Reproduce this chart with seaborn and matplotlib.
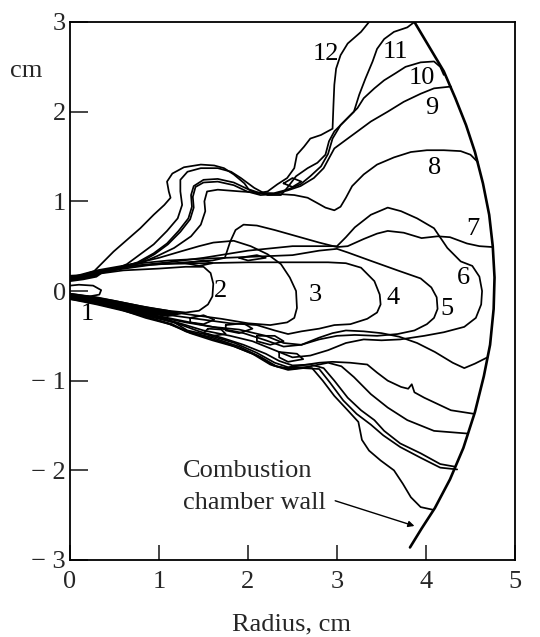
import numpy as np
import pandas as pd
import matplotlib
matplotlib.use("Agg")
import matplotlib.pyplot as plt
import seaborn as sns

# ---------------- data (cm) ----------------
contour_1 = [(0.0, 0.06), (0.1, 0.07), (0.26, 0.06), (0.35, 0.01), (0.33, -0.04), (0.22, -0.06), (0.05, -0.05)]
contour_2 = [(0, 0.12), (0.3, 0.19), (0.6, 0.23), (1.0, 0.25), (1.3, 0.27), (1.5, 0.27), (1.58, 0.2), (1.61, 0.08),
             (1.6, -0.06), (1.55, -0.15), (1.45, -0.22), (1.3, -0.24), (1.1, -0.22), (0.8, -0.17), (0.5, -0.11),
             (0.2, -0.06), (0, -0.03)]
contour_3 = [(0, 0.13), (0.3, 0.2), (0.7, 0.3), (1.0, 0.37), (1.24, 0.44), (1.45, 0.5), (1.61, 0.54), (1.84, 0.56),
             (2.03, 0.50), (2.22, 0.41), (2.37, 0.30), (2.47, 0.15), (2.54, 0.0), (2.55, -0.19), (2.52, -0.30),
             (2.44, -0.35), (2.25, -0.38), (2.0, -0.36), (1.7, -0.31), (1.4, -0.27), (1.1, -0.23), (0.8, -0.18),
             (0.4, -0.11), (0, -0.05)]
contour_4 = [(0, 0.14), (0.3, 0.22), (0.6, 0.27), (1.0, 0.3), (1.5, 0.31), (2.0, 0.32), (2.5, 0.32), (2.9, 0.32),
             (3.1, 0.31), (3.27, 0.26), (3.42, 0.11), (3.48, -0.04), (3.49, -0.15), (3.45, -0.24), (3.34, -0.31),
             (3.15, -0.37), (2.97, -0.38), (2.8, -0.42), (2.6, -0.45), (2.45, -0.48), (2.3, -0.44), (2.1, -0.38),
             (1.8, -0.36), (1.5, -0.32), (1.2, -0.28), (0.9, -0.24), (0.6, -0.17), (0.3, -0.11), (0, -0.06)]
contour_5 = [(0, 0.15), (0.3, 0.23), (0.7, 0.3), (1.1, 0.34), (1.5, 0.36), (2.0, 0.38), (2.5, 0.4), (2.8, 0.45),
             (3.0, 0.47), (3.12, 0.43), (3.37, 0.34), (3.68, 0.23), (3.94, 0.14), (4.06, 0.04),
             (4.12, -0.07), (4.13, -0.2), (4.09, -0.3), (4.01, -0.37), (3.87, -0.44), (3.68, -0.48), (3.45, -0.5),
             (3.2, -0.49), (3.0, -0.5), (2.8, -0.54), (2.6, -0.6), (2.4, -0.58), (2.2, -0.5), (1.9, -0.43),
             (1.6, -0.4), (1.3, -0.35), (1.0, -0.29), (0.7, -0.21), (0.35, -0.13), (0, -0.07)]
contour_6 = [(0, 0.15), (0.3, 0.21), (0.7, 0.28), (1.1, 0.32), (1.5, 0.37), (2.0, 0.45), (2.5, 0.5), (2.85, 0.5),
             (3.0, 0.5), (3.1, 0.6), (3.2, 0.71), (3.38, 0.85), (3.57, 0.93), (3.72, 0.89),
             (3.90, 0.81), (4.09, 0.70), (4.24, 0.48), (4.39, 0.33), (4.52, 0.28), (4.6, 0.16), (4.63, 0.0),
             (4.62, -0.15), (4.56, -0.3), (4.43, -0.4), (4.20, -0.46), (3.98, -0.5), (3.71, -0.54), (3.5, -0.55),
             (3.3, -0.54), (3.1, -0.58), (2.9, -0.66), (2.7, -0.72), (2.5, -0.74), (2.3, -0.66), (2.05, -0.56),
             (1.8, -0.5), (1.5, -0.44), (1.2, -0.35), (0.9, -0.27), (0.5, -0.17), (0, -0.08)]
contour_7_upper = [(0, 0.15), (0.4, 0.22), (0.9, 0.29), (1.3, 0.32), (1.6, 0.34), (1.74, 0.37), (1.8, 0.55),
                   (1.86, 0.68), (1.95, 0.74), (2.1, 0.73), (2.3, 0.68), (2.55, 0.61), (2.8, 0.54), (3.0, 0.49),
                   (3.12, 0.5), (3.3, 0.58), (3.45, 0.64), (3.57, 0.67), (3.75, 0.65), (3.95, 0.59), (4.13, 0.61),
                   (4.27, 0.6), (4.46, 0.53), (4.6, 0.5), (4.75, 0.49)]
contour_7_lower = [(4.69, -0.74), (4.55, -0.81), (4.43, -0.86), (4.3, -0.8), (4.1, -0.68), (3.9, -0.58),
                   (3.7, -0.51), (3.5, -0.47), (3.3, -0.45), (3.1, -0.44), (2.95, -0.47), (2.8, -0.52), (2.6, -0.6),
                   (2.4, -0.62), (2.2, -0.55), (1.95, -0.47), (1.7, -0.42), (1.4, -0.36), (1.1, -0.3), (0.8, -0.24),
                   (0.4, -0.15), (0, -0.08)]
contour_8_upper = [(0, 0.15), (0.27, 0.19), (0.53, 0.24), (0.79, 0.31), (0.98, 0.39), (1.17, 0.48), (1.36, 0.61),
                   (1.47, 0.74), (1.52, 0.89), (1.51, 1.0), (1.54, 1.11), (1.66, 1.13), (1.92, 1.11), (2.22, 1.09),
                   (2.52, 1.07), (2.67, 1.04), (2.78, 0.98), (2.87, 0.93), (2.97, 0.90), (3.04, 0.94), (3.10, 1.04),
                   (3.17, 1.17), (3.30, 1.30), (3.45, 1.41), (3.64, 1.49), (3.83, 1.55), (4.01, 1.57), (4.20, 1.57),
                   (4.39, 1.56), (4.50, 1.52), (4.58, 1.44)]
contour_8_lower = [(4.54, -1.37), (4.28, -1.33), (4.13, -1.26), (3.98, -1.19), (3.87, -1.13), (3.84, -1.04),
                   (3.8, -1.09), (3.72, -1.07), (3.57, -1.0), (3.45, -0.91), (3.34, -0.82), (3.15, -0.8),
                   (2.95, -0.79), (2.8, -0.8), (2.6, -0.83), (2.45, -0.85), (2.3, -0.8), (2.1, -0.69), (1.85, -0.58),
                   (1.55, -0.49), (1.32, -0.44), (1.17, -0.35), (0.87, -0.28), (0.6, -0.2), (0.3, -0.14), (0, -0.08)]
contour_9_upper = [(0, 0.15), (0.27, 0.19), (0.53, 0.24), (0.77, 0.31), (0.95, 0.41), (1.1, 0.52), (1.24, 0.66),
                   (1.35, 0.8), (1.39, 0.93), (1.38, 1.05), (1.41, 1.16), (1.5, 1.21), (1.66, 1.22), (1.84, 1.18),
                   (1.99, 1.11), (2.14, 1.07), (2.29, 1.08), (2.44, 1.12), (2.59, 1.17), (2.74, 1.26), (2.85, 1.37),
                   (2.91, 1.48), (2.97, 1.59), (3.12, 1.70), (3.23, 1.78), (3.38, 1.89), (3.57, 2.0), (3.75, 2.11),
                   (3.94, 2.2), (4.09, 2.26), (4.28, 2.28)]
contour_9_lower = [(4.47, -1.59), (4.09, -1.56), (3.79, -1.44), (3.57, -1.3), (3.38, -1.15), (3.19, -0.96),
                   (3.05, -0.84), (2.9, -0.8), (2.7, -0.84), (2.5, -0.87), (2.32, -0.84), (2.15, -0.74), (1.9, -0.62),
                   (1.6, -0.52), (1.35, -0.46), (1.15, -0.38), (0.9, -0.3), (0.6, -0.21), (0.3, -0.14), (0, -0.08)]
contour_10_upper = [(0, 0.15), (0.27, 0.19), (0.53, 0.25), (0.76, 0.32), (0.94, 0.42), (1.09, 0.53), (1.22, 0.67),
                    (1.33, 0.81), (1.37, 0.94), (1.36, 1.07), (1.39, 1.17), (1.5, 1.24), (1.66, 1.25), (1.84, 1.21),
                    (1.99, 1.14), (2.14, 1.09), (2.29, 1.09), (2.44, 1.13), (2.59, 1.19), (2.70, 1.28), (2.82, 1.39),
                    (2.90, 1.53), (2.95, 1.70), (3.04, 1.85), (3.15, 1.96), (3.23, 2.04), (3.30, 2.15), (3.42, 2.26),
                    (3.53, 2.35), (3.66, 2.43), (3.77, 2.50), (3.94, 2.55), (4.09, 2.56), (4.16, 2.5), (4.2, 2.41)]
contour_10_lower = [(4.33, -1.96), (4.16, -1.93), (3.94, -1.81), (3.71, -1.70), (3.53, -1.56), (3.42, -1.44),
                    (3.27, -1.33), (3.12, -1.19), (2.97, -1.0), (2.85, -0.86), (2.7, -0.82), (2.5, -0.83),
                    (2.35, -0.78), (2.2, -0.7), (1.95, -0.6), (1.7, -0.52), (1.45, -0.45), (1.2, -0.36),
                    (0.95, -0.29), (0.6, -0.19), (0.3, -0.12), (0, -0.07)]
contour_11_upper = [(0, 0.15), (0.27, 0.19), (0.46, 0.22), (0.64, 0.30), (0.79, 0.41), (0.94, 0.52), (1.09, 0.67),
                    (1.21, 0.81), (1.26, 0.96), (1.24, 1.11), (1.24, 1.24), (1.32, 1.33), (1.47, 1.37), (1.66, 1.37),
                    (1.81, 1.33), (1.92, 1.26), (2.07, 1.15), (2.22, 1.07), (2.37, 1.07), (2.44, 1.15), (2.54, 1.28),
                    (2.67, 1.37), (2.78, 1.43), (2.87, 1.52), (2.91, 1.67), (2.97, 1.78), (3.08, 1.89), (3.19, 2.0),
                    (3.25, 2.19), (3.32, 2.37), (3.40, 2.56), (3.45, 2.70), (3.53, 2.81), (3.64, 2.89), (3.79, 2.94),
                    (3.87, 3.0)]
contour_11_lower = [(4.35, -1.99), (4.16, -1.97), (3.94, -1.86), (3.71, -1.74), (3.52, -1.61), (3.38, -1.49),
                    (3.22, -1.37), (3.07, -1.22), (2.92, -1.02), (2.8, -0.87), (2.62, -0.86), (2.45, -0.88),
                    (2.28, -0.83), (2.1, -0.72), (1.85, -0.62), (1.6, -0.55), (1.35, -0.47), (1.12, -0.37),
                    (0.85, -0.3), (0.55, -0.2), (0.25, -0.13), (0, -0.08)]
contour_12_upper = [(0, 0.15), (0.12, 0.17), (0.27, 0.22), (0.38, 0.33), (0.49, 0.44), (0.64, 0.57), (0.79, 0.70),
                    (0.94, 0.85), (1.06, 0.96), (1.13, 1.04), (1.11, 1.11), (1.09, 1.22), (1.15, 1.31), (1.28, 1.38),
                    (1.47, 1.41), (1.62, 1.40), (1.73, 1.37), (1.84, 1.30), (1.96, 1.20), (2.01, 1.13), (2.10, 1.09),
                    (2.22, 1.11), (2.33, 1.19), (2.44, 1.26), (2.52, 1.37), (2.55, 1.52), (2.63, 1.61), (2.70, 1.70),
                    (2.82, 1.74), (2.95, 1.81), (2.96, 2.07), (2.97, 2.30), (2.99, 2.48), (3.04, 2.63), (3.12, 2.76),
                    (3.27, 2.89), (3.36, 3.0)]
contour_12_lower = [(4.08, -2.44), (3.94, -2.41), (3.83, -2.3), (3.74, -2.15), (3.64, -2.0), (3.49, -1.89),
                    (3.36, -1.78), (3.28, -1.66), (3.24, -1.46), (3.12, -1.33), (2.97, -1.17), (2.84, -1.0),
                    (2.72, -0.86), (2.55, -0.85), (2.4, -0.86), (2.25, -0.82), (2.05, -0.7), (1.8, -0.6),
                    (1.55, -0.52), (1.3, -0.45), (1.15, -0.37), (0.9, -0.3), (0.6, -0.22), (0.3, -0.15), (0, -0.09)]

# small cells of the spray envelope (crossing outlines)
cell_1 = [(1.35, -0.3), (1.5, -0.27), (1.62, -0.32), (1.5, -0.37), (1.35, -0.35), (1.35, -0.3)]
cell_2 = [(1.75, -0.38), (1.95, -0.36), (2.05, -0.42), (1.9, -0.47), (1.75, -0.44), (1.75, -0.38)]
cell_3 = [(2.1, -0.5), (2.3, -0.5), (2.4, -0.56), (2.25, -0.6), (2.1, -0.56), (2.1, -0.5)]
cell_4 = [(2.35, -0.68), (2.55, -0.7), (2.62, -0.76), (2.45, -0.79), (2.35, -0.74), (2.35, -0.68)]
cell_5 = [(1.55, -0.42), (1.7, -0.43), (1.75, -0.48), (1.6, -0.5), (1.5, -0.47), (1.55, -0.42)]
cell_6 = [(1.3, 0.31), (1.5, 0.34), (1.6, 0.31), (1.45, 0.28), (1.3, 0.31)]
cell_7 = [(1.9, 0.37), (2.1, 0.4), (2.2, 0.37), (2.0, 0.34), (1.9, 0.37)]
cell_8 = [(2.4, 1.2), (2.5, 1.26), (2.6, 1.22), (2.5, 1.16), (2.4, 1.2)]

chamber_wall = [(3.87, 3.0), (4.05, 2.7), (4.2, 2.45), (4.33, 2.15), (4.45, 1.85), (4.55, 1.55), (4.64, 1.2),
                (4.71, 0.85), (4.75, 0.5), (4.77, 0.15), (4.76, -0.2), (4.72, -0.6), (4.65, -0.95), (4.55, -1.35),
                (4.42, -1.75), (4.27, -2.1), (4.1, -2.42), (3.95, -2.65), (3.82, -2.86)]

spray_core_lower = [(0, -0.02), (0.3, -0.06), (0.6, -0.12), (0.9, -0.18), (1.1, -0.21), (1.25, -0.26),
                    (1.1, -0.29), (0.8, -0.25), (0.5, -0.19), (0.2, -0.13), (0, -0.1)]
spray_core_upper = [(0, 0.18), (0.2, 0.19), (0.4, 0.22), (0.3, 0.15), (0.15, 0.12), (0, 0.1)]

label_text = ["1", "2", "3", "4", "5", "6", "7", "8", "9", "10", "11", "12"]
label_x = [0.19, 1.69, 2.76, 3.63, 4.24, 4.42, 4.53, 4.10, 4.06, 3.95, 3.66, 2.88]
label_y = [-0.26, 0.0, -0.04, -0.08, -0.20, 0.15, 0.69, 1.37, 2.04, 2.37, 2.66, 2.64]

x_ticks = [0, 1, 2, 3, 4, 5]
y_ticks = [-3, -2, -1, 0, 1, 2, 3]

curves = {
    "1": contour_1, "2": contour_2, "3": contour_3, "4": contour_4, "5": contour_5, "6": contour_6,
    "7u": contour_7_upper, "7l": contour_7_lower, "8u": contour_8_upper, "8l": contour_8_lower,
    "9u": contour_9_upper, "9l": contour_9_lower, "10u": contour_10_upper, "10l": contour_10_lower,
    "11u": contour_11_upper, "11l": contour_11_lower, "12u": contour_12_upper, "12l": contour_12_lower,
    "c1": cell_1, "c2": cell_2, "c3": cell_3, "c4": cell_4, "c5": cell_5, "c6": cell_6, "c7": cell_7,
    "c8": cell_8,
}

rows = []
for name, pts in curves.items():
    for i, (x, y) in enumerate(pts):
        rows.append({"curve": name, "seq": i, "x": x, "y": y})
df = pd.DataFrame(rows)
wall_df = pd.DataFrame(chamber_wall, columns=["x", "y"])

# ---------------- style ----------------
sns.set_theme(style="white")
plt.rcParams["font.family"] = ["Liberation Serif", "DejaVu Serif"]

FS = 19
fig = plt.figure(figsize=(5.4, 6.37), dpi=100)
ax = fig.add_axes([70 / 540, 1 - 560 / 637, 445 / 540, 538 / 637])

sns.lineplot(data=df, x="x", y="y", units="curve", estimator=None, sort=False,
             color="black", lw=1.25, ax=ax)
sns.lineplot(data=wall_df, x="x", y="y", estimator=None, sort=False,
             color="black", lw=1.9, ax=ax)

for poly in (spray_core_lower, spray_core_upper):
    px, py = zip(*poly)
    ax.fill(px, py, color="black", lw=0)

for t, x, y in zip(label_text, label_x, label_y):
    ax.text(x, y, t, fontsize=FS, ha="center", va="center", color="black")

ax.text(1.27, -2.07, "Combustion", fontsize=FS, ha="left", va="baseline")
ax.text(1.27, -2.43, "chamber wall", fontsize=FS, ha="left", va="baseline")
ax.annotate("", xy=(3.90, -2.63), xytext=(2.95, -2.33),
            arrowprops=dict(arrowstyle="-|>", color="black", lw=1.0, mutation_scale=9))

ax.set_xlim(0, 5)
ax.set_ylim(-3, 3)
ax.set_xticks(x_ticks)
ax.set_yticks(y_ticks)
ax.set_xticklabels([str(v) for v in x_ticks])
ax.set_yticklabels([("\u2212 " + str(-v)) if v < 0 else str(v) for v in y_ticks])
ax.tick_params(axis="y", direction="in", length=13, width=1.2, pad=3, labelsize=FS, left=True)
ax.tick_params(axis="x", direction="in", length=11, width=1.2, pad=8, labelsize=FS, bottom=True)
ax.set_xlabel("")
ax.set_ylabel("")
for s in ax.spines.values():
    s.set_visible(True)
    s.set_color("black")
    s.set_linewidth(1.3)

fig.text(26 / 540, 1 - 71 / 637, "cm", fontsize=FS, ha="center", va="center")
fig.text(292 / 540, 1 - 624 / 637, "Radius, cm", fontsize=FS, ha="center", va="center")

fig.savefig("out.png", dpi=100, facecolor="white")
